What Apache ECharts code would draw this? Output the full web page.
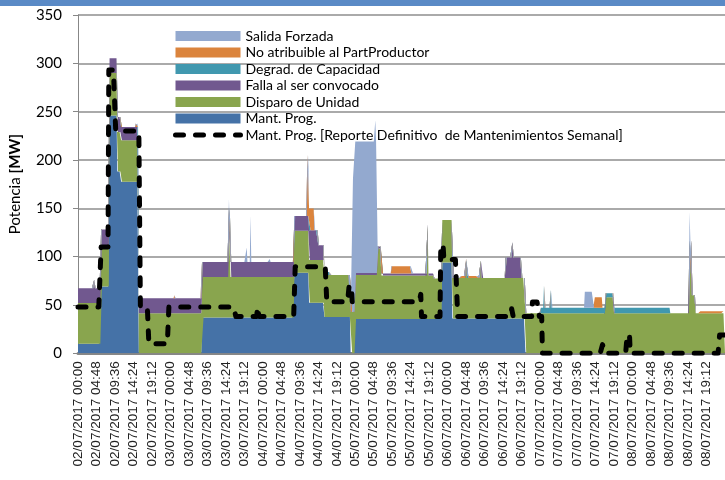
<!DOCTYPE html>
<html><head><meta charset="utf-8">
<script src="https://cdn.jsdelivr.net/npm/echarts@6/dist/echarts.min.js"></script>
<style>html,body{margin:0;padding:0;background:#fff}#c{width:725px;height:480px}</style>
</head><body><div id="c"></div>
<script>
// X tick labels (every 4h48m)
const tickLabels = [
 '02/07/2017 00:00','02/07/2017 04:48','02/07/2017 09:36','02/07/2017 14:24','02/07/2017 19:12',
 '03/07/2017 00:00','03/07/2017 04:48','03/07/2017 09:36','03/07/2017 14:24','03/07/2017 19:12',
 '04/07/2017 00:00','04/07/2017 04:48','04/07/2017 09:36','04/07/2017 14:24','04/07/2017 19:12',
 '05/07/2017 00:00','05/07/2017 04:48','05/07/2017 09:36','05/07/2017 14:24','05/07/2017 19:12',
 '06/07/2017 00:00','06/07/2017 04:48','06/07/2017 09:36','06/07/2017 14:24','06/07/2017 19:12',
 '07/07/2017 00:00','07/07/2017 04:48','07/07/2017 09:36','07/07/2017 14:24','07/07/2017 19:12',
 '08/07/2017 00:00','08/07/2017 04:48','08/07/2017 09:36','08/07/2017 14:24','08/07/2017 19:12'
];
const yTicks = [0, 50, 100, 150, 200, 250, 300, 350];
const seriesNames = ['Salida Forzada','No atribuible al PartProductor','Degrad. de Capacidad','Falla al ser convocado','Disparo de Unidad','Mant. Prog.','Mant. Prog. [Reporte Definitivo  de Mantenimientos Semanal]'];

// Step data: [hour from 02/07 00:00, MW] held until next entry
const mantProg = [[0,10],[6.0,69],[8.1,246],[10.1,188],[11.2,177.5],[15.7,0],[32.1,37],[56.2,83.4],[59.9,52.4],[63.9,37.5],[70.7,0],[72.0,35.5],[94.6,94],[97.2,36],[116.2,0]];
const disparo = [[0,42],[6.0,40],[8.1,44],[10.1,41],[11.2,43],[15.7,41.4],[32.1,42],[39.2,90],[39.6,42],[56.2,43.4],[59.9,44],[63.9,43.5],[70.7,43],[72.0,45.5],[77.7,73],[78.7,45],[90.8,96],[91.0,45],[92.4,42],[94.6,44],[97.2,42],[100.8,60],[101.0,42],[104.5,60],[104.7,42],[116.2,41.4],[136.9,58],[139.1,41.4],[158.8,117],[159.4,60],[160.3,41.4]];
const falla = [[0,15.2],[4.2,24],[4.4,15.2],[6.0,19],[8.1,15.3],[10.1,15.5],[11.2,13.7],[15.7,15.6],[32.1,15.5],[39.2,24],[39.6,15.5],[56.2,15.2],[59.9,31],[62.3,15.5],[63.9,0],[72.0,2],[92.4,0],[110.9,21],[112.8,37],[113.0,21],[115.1,0]];
const degrad = [[0,0],[63.9,3],[65.3,0],[120.1,5.8],[121.0,29],[121.2,5.8],[122.7,24],[122.9,5.8],[136.9,4],[139.1,5.8],[153.8,0]];
const noAtrib = [[0,0],[15.0,3.5],[15.6,0],[25.0,3],[25.2,0],[59.6,63.5],[60.0,22.5],[61.3,0],[81.3,7.5],[86.5,0],[99.2,2],[103.9,0],[134.2,10.8],[136.2,0],[161.6,2]];
const salida = [[0,0],[39.2,8.7],[39.6,0],[43.8,15],[44.0,0],[44.8,48],[45.0,0],[49.8,3],[50.0,0],[71.3,138],[72.0,136],[77.1,158],[77.4,136],[77.7,0],[131.6,16.5],[134.0,0],[158.8,29.5],[159.4,0]];
const mantDef = [[0,48],[5.9,110],[7.9,293],[9.7,230],[16.1,48],[18.3,10],[23.5,48],[40.9,38],[46.6,48],[47.0,38],[56.3,89.6],[64.6,53.4],[70.4,70],[71.2,53.4],[88.9,61],[89.2,38],[94.2,112],[95.0,97],[98.5,38],[112.6,46],[113.0,38],[118.0,53],[119.8,38],[120.5,0],[136.2,9],[136.8,0],[142.6,19],[143.4,0],[166.6,19]];

const slotsPerHour = 5, totalHours = 168;
const nSlots = totalHours * slotsPerHour + 1;
const categories = [];
for (let i = 0; i < nSlots; i++) categories.push(String(i));
function expand(seg) {
  const out = [];
  for (let i = 0; i < nSlots; i++) {
    const h = i / slotsPerHour;
    let v = 0;
    for (const [s, val] of seg) { if (s <= h + 1e-9) v = val; else break; }
    out.push(v);
  }
  return out;
}
const colors = {
  salida: '#93A9CF', noAtrib: '#DB843D', degrad: '#4198AF',
  falla: '#71588F', disparo: '#89A54E', mant: '#4572A7'
};
function area(name, seg, color) {
  return {
    name, type: 'line', stack: 'total', data: expand(seg),
    symbol: 'none', showSymbol: false, smooth: false,
    lineStyle: { width: 0, opacity: 0 },
    areaStyle: { color, opacity: 1 },
    itemStyle: { color },
    emphasis: { disabled: true }, animation: false
  };
}
const chart = echarts.init(document.getElementById('c'));
chart.setOption({
  animation: false,
  backgroundColor: '#fff',
  grid: { left: 76, right: 0, top: 15, bottom: 126.7, containLabel: false },
  graphic: [
    { type: 'rect', left: 0, top: 0, shape: { width: 725, height: 6 }, style: { fill: '#5A8AC6' } }
  ],
  legend: {
    orient: 'vertical', left: 173, top: 29, padding: 0,
    itemWidth: 65, itemHeight: 10, itemGap: 2.5,
    textStyle: { fontFamily: 'Lato', fontSize: 14, lineHeight: 14, color: '#000' },
    data: [
      { name: seriesNames[0], icon: 'rect' },
      { name: seriesNames[1], icon: 'rect' },
      { name: seriesNames[2], icon: 'rect' },
      { name: seriesNames[3], icon: 'rect' },
      { name: seriesNames[4], icon: 'rect' },
      { name: seriesNames[5], icon: 'rect' },
      { name: seriesNames[6], itemStyle: { opacity: 0 },
        lineStyle: { width: 5, color: '#000', type: [8, 12], cap: 'round' } }
    ]
  },
  xAxis: {
    type: 'category', data: categories, boundaryGap: false,
    axisLine: { lineStyle: { color: '#878787', width: 3 } },
    axisTick: { show: false },
    axisLabel: {
      interval: 23, rotate: 90, margin: 8,
      fontFamily: 'Liberation Sans', fontSize: 13.5, color: '#222',
      formatter: (v, i) => (i % 24 === 0 ? tickLabels[i / 24] : '')
    },
    splitLine: { show: false }
  },
  yAxis: {
    type: 'value', min: yTicks[0], max: yTicks[yTicks.length - 1], interval: 50,
    name: '{a|Potencia }{b|[MW]}', nameLocation: 'middle', nameGap: 55, nameRotate: 90,
    nameTextStyle: {
      fontFamily: 'Lato', fontSize: 15, color: '#000',
      rich: { a: { fontFamily: 'Lato', fontSize: 15, color: '#000' }, b: { fontFamily: 'Lato', fontSize: 15, fontWeight: 'bold', color: '#000' } }
    },
    axisLine: { show: true, lineStyle: { color: '#878787', width: 1 } },
    axisTick: { show: true, length: 5, lineStyle: { color: '#878787' } },
    axisLabel: { fontFamily: 'Lato', fontSize: 15, color: '#000', margin: 16 },
    splitLine: { lineStyle: { color: '#8E8E8E', width: 1.5 } }
  },
  series: [
    area(seriesNames[5], mantProg, colors.mant),
    area(seriesNames[4], disparo, colors.disparo),
    area(seriesNames[3], falla, colors.falla),
    area(seriesNames[2], degrad, colors.degrad),
    area(seriesNames[1], noAtrib, colors.noAtrib),
    area(seriesNames[0], salida, colors.salida),
    {
      name: seriesNames[6], type: 'line', data: expand(mantDef), symbol: 'none', showSymbol: false,
      lineStyle: { color: '#000', width: 5, type: [8, 12], cap: 'round', join: 'round' },
      itemStyle: { color: '#000' }, z: 5, emphasis: { disabled: true }
    }
  ]
});
</script></body></html>
